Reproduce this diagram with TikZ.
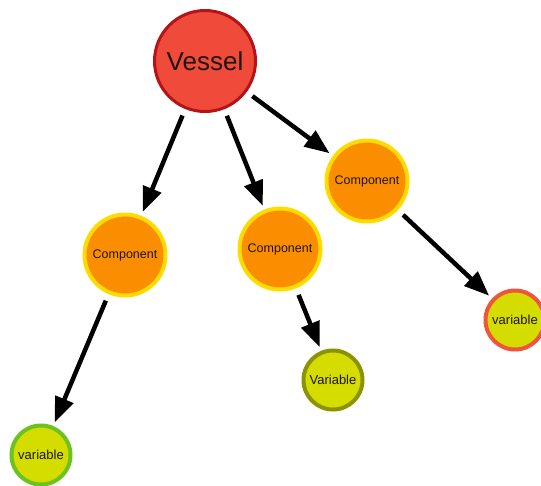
\documentclass[tikz,border=0pt]{standalone}
\usepackage{fontspec}
\setmainfont{Liberation Sans}
\usetikzlibrary{arrows.meta}
\definecolor{vfill}{HTML}{F04A3A}
\definecolor{vline}{HTML}{B2141A}
\definecolor{cfill}{HTML}{FB8E00}
\definecolor{cline}{HTML}{FFDC00}
\definecolor{yfill}{HTML}{D5DC00}
\definecolor{gline}{HTML}{6CC21E}
\definecolor{oline}{HTML}{8A9400}
\definecolor{rline}{HTML}{F0543C}
\definecolor{txt}{HTML}{1E1408}
\begin{document}
\begin{tikzpicture}[x=1pt,y=-1pt,
  vesselnode/.style={circle,draw=vline,fill=vfill,line width=3pt,minimum size=101pt,inner sep=0pt,text=txt,font=\fontsize{26}{30}\selectfont},
  compnode/.style={circle,draw=cline,fill=cfill,line width=4pt,minimum size=81pt,inner sep=0pt,text=txt,font=\fontsize{12.5}{15}\selectfont},
  varnode/.style={circle,fill=yfill,line width=4pt,minimum size=59pt,inner sep=0pt,text=txt,font=\fontsize{13}{15}\selectfont},
  arr/.style={line width=4.5pt,draw=black,-{Triangle[length=25pt,width=19pt]},shorten <=7pt,shorten >=4pt}]
\useasboundingbox (0,0) rectangle (541,485);
\node[vesselnode] (vessel) at (205,61) {Vessel};
\node[compnode] (c1) at (125,255) {Component};
\node[compnode] (c2) at (280,249) {Component};
\node[compnode] (c3) at (367,181) {Component};
\node[varnode,draw=gline] (v1) at (41,455) {variable};
\node[varnode,draw=oline] (v2) at (333,380) {Variable};
\node[varnode,draw=rline] (v3) at (515,320) {variable};
\draw[arr] (vessel) -- (c1);
\draw[arr] (vessel) -- (c2);
\draw[arr] (vessel) -- (c3);
\draw[arr] (c1) -- (v1);
\draw[arr] (c2) -- (v2);
\draw[arr] (c3) -- (v3);
\end{tikzpicture}
\end{document}
